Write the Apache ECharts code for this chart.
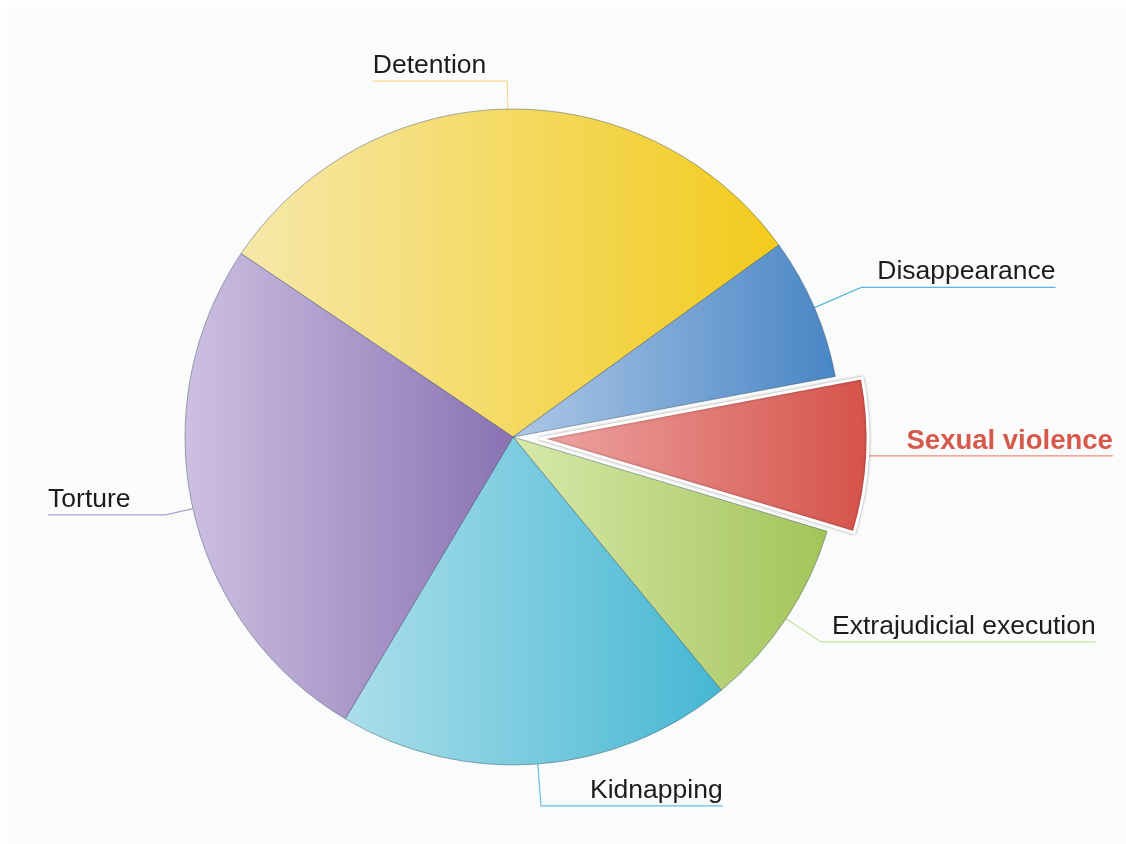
<!DOCTYPE html>
<html>
<head>
<meta charset="utf-8">
<script src="https://cdn.jsdelivr.net/npm/echarts@6/dist/echarts.min.js"></script>
<style>
  html, body { margin: 0; padding: 0; background: #ffffff; }
  #chart { position: absolute; left: 7px; top: 7px; width: 1119px; height: 837px; background: #fafbfb; }
</style>
</head>
<body>
<div id="chart"></div>
<script>
// Reported violations, share of cases (%)
const categories = ['Detention', 'Disappearance', 'Sexual violence', 'Extrajudicial execution', 'Kidnapping', 'Torture'];
const shares = [30.6, 7.0, 7.6, 9.4, 19.5, 25.9];
const highlighted = 'Sexual violence';

// light (left) -> saturated (right) fill for each slice
const fillLight = ['#f7e8aa', '#adc7e6', '#eea5a3', '#d8e9aa', '#abdeea', '#cdc0e1'];
const fillDeep  = ['#f2cb1c', '#4886c5', '#d5524a', '#a3c45a', '#46b7d3', '#8a72b3'];
const guideColors = ['#f6d98e', '#5cb5de', '#e88c7c', '#c8e0a2', '#63c2df', '#a9a3d3'];
// label line: radial segment, then the gap before the text
const guideLen  = [28, 51, 0, 42, 42, 28];
const guideLen2 = [16, 11, 34, 6, 44, 30];
const TEXT_GAP = 5;

const chart = echarts.init(document.getElementById('chart'));

const data = categories.map(function (name, i) {
  const isHi = name === highlighted;
  return {
    name: name,
    value: shares[i],
    selected: isHi,
    itemStyle: {
      color: new echarts.graphic.LinearGradient(0, 0, 1, 0, [
        { offset: 0, color: fillLight[i] },
        { offset: 1, color: fillDeep[i] }
      ]),
      borderColor: isHi ? '#ffffff' : 'rgba(60,80,100,0.45)',
      borderWidth: isHi ? 3 : 1,
      shadowBlur: isHi ? 3 : 0,
      shadowColor: 'rgba(0,0,0,0.35)'
    },
    label: isHi ? { color: '#d65a4b', fontWeight: 'bold', fontSize: 27.5 } : {},
    labelLine: {
      length: guideLen[i],
      length2: guideLen2[i],
      lineStyle: { color: guideColors[i], width: 1.2 }
    }
  };
});

chart.setOption({
  animation: false,
  series: [{
    type: 'pie',
    center: [506, 430],
    radius: 328,
    startAngle: 146,
    clockwise: true,
    avoidLabelOverlap: false,
    selectedMode: 'single',
    selectedOffset: 27,
    data: data,
    label: {
      show: true,
      position: 'outside',
      fontFamily: '"Liberation Sans", Arial, Helvetica, sans-serif',
      fontSize: 26.5,
      color: '#1c1c1c'
    },
    labelLine: { show: true, smooth: false },
    // set each label just above its guide line and run the line on under the text
    labelLayout: function (p) {
      const pts = p.labelLinePoints;
      if (!pts || pts.length < 2) return {};
      const a = pts[pts.length - 2];
      const b = pts[pts.length - 1];
      const dir = b[0] >= a[0] ? 1 : -1;
      const end = [b[0] + dir * (p.labelRect.width + TEXT_GAP), b[1]];
      const newPts = pts.slice(0, pts.length - 1).concat([end]);
      return {
        x: b[0] + dir * TEXT_GAP,
        y: b[1] - 2,
        align: dir > 0 ? 'left' : 'right',
        verticalAlign: 'bottom',
        labelLinePoints: newPts
      };
    }
  }]
});
</script>
</body>
</html>
